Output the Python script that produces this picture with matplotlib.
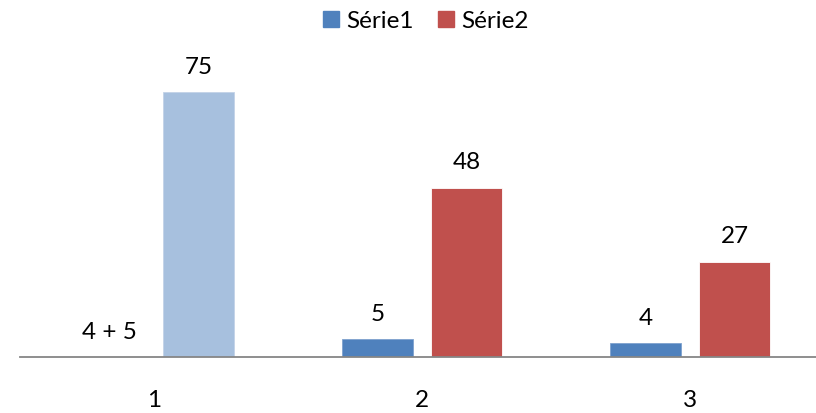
import numpy as np
import matplotlib.pyplot as plt
from matplotlib.patches import Patch

plt.rcParams['font.family'] = ['Lato', 'DejaVu Sans']

categories = ['1', '2', '3']
serie1 = [0, 5, 4]
serie2 = [75, 48, 27]
labels1 = ['4 + 5', '5', '4']
labels2 = ['75', '48', '27']

blue = '#4F81BD'
red = '#C0504D'
light_blue = '#A7C0DE'

fig = plt.figure(figsize=(8.16, 4.14), dpi=100)
ax = fig.add_axes([0.0245, 0.1353, 0.9755, 0.682])

x = np.arange(1, len(categories) + 1)
off = 0.166
w = 0.265

colors2 = [light_blue, red, red]
ax.bar(x - off, serie1, w, color=blue, edgecolor='#7FA2CE', linewidth=0.6)
b2 = ax.bar(x + off, serie2, w, color=colors2, edgecolor='white', linewidth=0.6)
b2.patches[0].set_edgecolor('#C3D3E8')

fs = 17.5
for i in range(len(x)):
    ax.annotate(labels1[i], (x[i] - off, serie1[i]), xytext=(0, 11), textcoords='offset points',
                ha='center', va='bottom', fontsize=fs, color='black')
    ax.annotate(labels2[i], (x[i] + off, serie2[i]), xytext=(0, 11), textcoords='offset points',
                ha='center', va='bottom', fontsize=fs, color='black')

ax.set_xlim(0.5, 3.47)
ax.set_ylim(0, 80)
ax.set_xticks(x)
ax.set_xticklabels(categories, fontsize=fs)
ax.tick_params(axis='x', length=0, pad=23)
ax.set_yticks([])
for s in ['top', 'left', 'right']:
    ax.spines[s].set_visible(False)
ax.spines['bottom'].set_color('#868686')
ax.spines['bottom'].set_linewidth(1.3)

handles = [Patch(color=blue), Patch(color=red)]
fig.legend(handles, ['Série1', 'Série2'], loc='center', bbox_to_anchor=(0.522, 0.947),
           ncol=2, frameon=False, fontsize=fs, handlelength=0.65, handleheight=0.65,
           handletextpad=0.3, columnspacing=1.0)

fig.savefig('out.png', dpi=100)
